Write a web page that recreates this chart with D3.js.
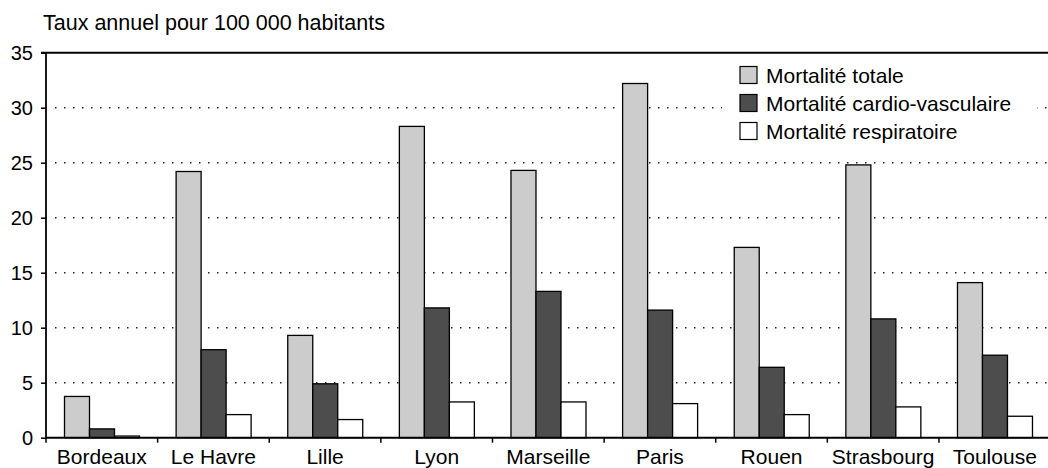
<!DOCTYPE html>
<html>
<head>
<meta charset="utf-8">
<script src="https://d3js.org/d3.v7.min.js"></script>
<style>
  body { margin: 0; background: #fff; }
  svg text { font-family: "Liberation Sans", Arial, Helvetica, sans-serif; fill: #000; }
</style>
</head>
<body>
<div id="chart"></div>
<script>
// Données
var villes = ["Bordeaux", "Le Havre", "Lille", "Lyon", "Marseille", "Paris", "Rouen", "Strasbourg", "Toulouse"];
var series = ["Mortalité totale", "Mortalité cardio-vasculaire", "Mortalité respiratoire"];
var totale = [3.75, 24.2, 9.3, 28.3, 24.3, 32.2, 17.3, 24.8, 14.1];
var cardio = [0.8, 8.0, 4.9, 11.8, 13.3, 11.6, 6.4, 10.8, 7.5];
var respi = [0.15, 2.1, 1.65, 3.25, 3.25, 3.1, 2.1, 2.8, 1.95];
var yTicks = [0, 5, 10, 15, 20, 25, 30, 35];
var couleurs = ["#cccccc", "#4d4d4d", "#ffffff"];

var width = 1048, height = 468;
var mLeft = 46, mRight = 1050.6, mTop = 52.7, mBottom = 437.7;

var svg = d3.select("#chart").append("svg")
  .attr("width", width)
  .attr("height", height);

// echelles
var x = d3.scaleBand().domain(villes).range([mLeft, mRight]).padding(0);
var xs = d3.scaleBand().domain(series).range([18.5, 93.5]).padding(0);
var y = d3.scaleLinear().domain([0, 35]).range([mBottom, mTop]);

// titre de l'axe
svg.append("text")
  .attr("x", 43)
  .attr("y", 30)
  .attr("font-size", 21.5)
  .text("Taux annuel pour 100 000 habitants");

// grille pointillee
svg.append("g").selectAll("line")
  .data(yTicks.filter(function(d) { return d > 0 && d < 35; }))
  .enter().append("line")
  .attr("x1", 55).attr("x2", width)
  .attr("y1", function(d) { return y(d); })
  .attr("y2", function(d) { return y(d); })
  .attr("stroke", "#222")
  .attr("stroke-width", 1.5)
  .attr("stroke-dasharray", "1.5 7.5");

// barres
var data = villes.map(function(v, i) {
  return { ville: v, valeurs: [totale[i], cardio[i], respi[i]] };
});

var groupes = svg.append("g").selectAll("g")
  .data(data).enter().append("g")
  .attr("transform", function(d) { return "translate(" + x(d.ville) + ",0)"; });

groupes.selectAll("rect")
  .data(function(d) { return d.valeurs.map(function(v, j) { return { s: series[j], v: v, j: j }; }); })
  .enter().append("rect")
  .attr("x", function(d) { return xs(d.s); })
  .attr("width", xs.bandwidth())
  .attr("y", function(d) { return y(d.v); })
  .attr("height", function(d) { return y(0) - y(d.v); })
  .attr("fill", function(d) { return couleurs[d.j]; })
  .attr("stroke", "#000")
  .attr("stroke-width", 1.3);

// legende
var legende = svg.append("g");
legende.append("rect")
  .attr("x", 722).attr("y", 58).attr("width", 315).attr("height", 90)
  .attr("fill", "#fff");
var items = legende.selectAll("g.item")
  .data(series).enter().append("g")
  .attr("class", "item")
  .attr("transform", function(d, i) { return "translate(740," + (75 + i * 28) + ")"; });
items.append("rect")
  .attr("x", 0).attr("y", -8.5).attr("width", 17).attr("height", 17)
  .attr("fill", function(d, i) { return couleurs[i]; })
  .attr("stroke", "#000")
  .attr("stroke-width", 1.2);
items.append("text")
  .attr("x", 26).attr("y", 0)
  .attr("dy", "0.36em")
  .attr("font-size", 21)
  .text(function(d) { return d; });

// axe Y
var yAxis = d3.axisLeft(y).tickValues(yTicks).tickSize(5).tickPadding(8);
var gy = svg.append("g")
  .attr("transform", "translate(" + mLeft + ",0)")
  .call(yAxis);
gy.select(".domain").remove();
gy.selectAll(".tick line").attr("stroke", "#000").attr("stroke-width", 1.5);
gy.selectAll(".tick text").attr("font-size", 20).attr("font-family", null);

svg.append("line")
  .attr("x1", mLeft).attr("x2", mLeft)
  .attr("y1", mTop).attr("y2", mBottom)
  .attr("stroke", "#000").attr("stroke-width", 1.8);

// bordure du haut
svg.append("line")
  .attr("x1", mLeft - 5).attr("x2", width)
  .attr("y1", mTop).attr("y2", mTop)
  .attr("stroke", "#000").attr("stroke-width", 2);

// axe X
var xAxis = d3.axisBottom(x).tickSize(0);
var gx = svg.append("g")
  .attr("transform", "translate(0," + mBottom + ")")
  .call(xAxis);
gx.select(".domain").remove();
gx.selectAll(".tick text")
  .attr("font-size", 21)
  .attr("font-family", null)
  .attr("y", 26.5)
  .attr("dy", 0);

svg.append("g").selectAll("line")
  .data(villes)
  .enter().append("line")
  .attr("x1", function(d) { return x(d); })
  .attr("x2", function(d) { return x(d); })
  .attr("y1", mBottom).attr("y2", mBottom + 5)
  .attr("stroke", "#000").attr("stroke-width", 1.5);

svg.append("line")
  .attr("x1", mLeft).attr("x2", width)
  .attr("y1", mBottom).attr("y2", mBottom)
  .attr("stroke", "#000").attr("stroke-width", 2);
</script>
</body>
</html>
